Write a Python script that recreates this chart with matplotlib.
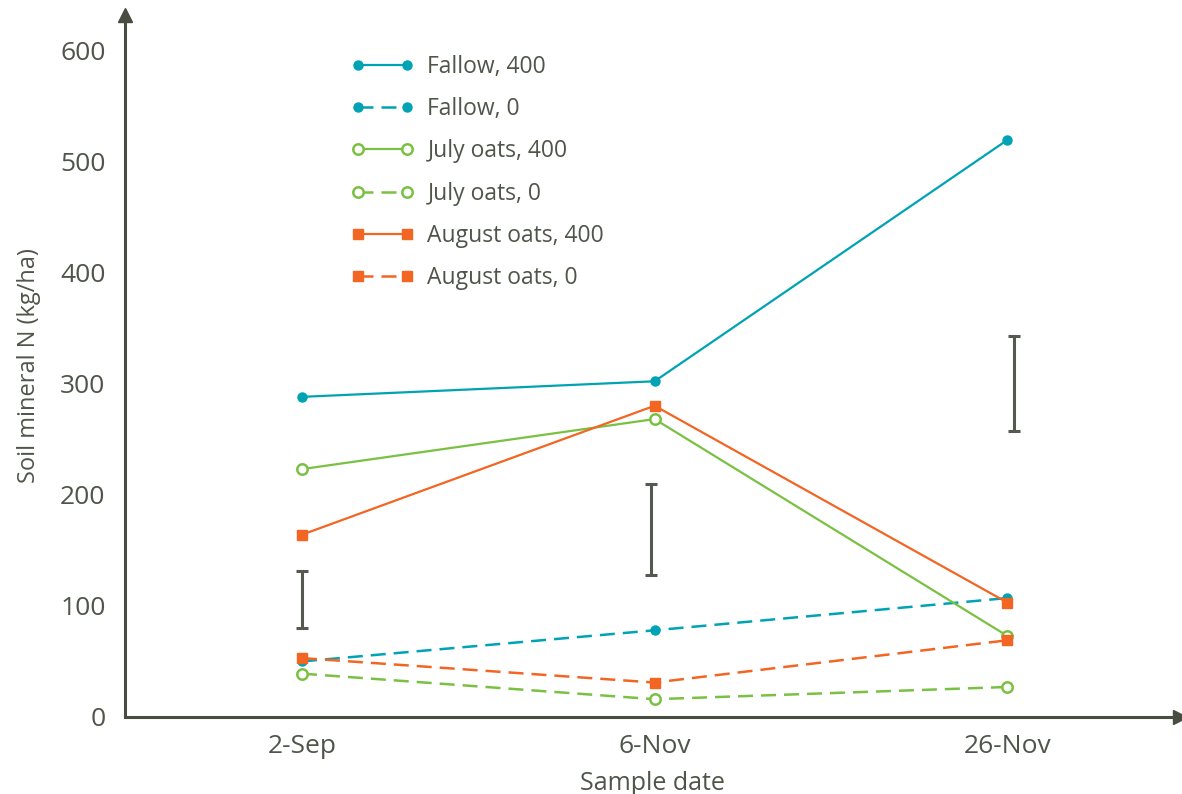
import matplotlib.pyplot as plt

# Sample dates and soil mineral N (kg/ha)
dates = ['2-Sep', '6-Nov', '26-Nov']
fallow_400 = [288, 302, 519]
fallow_0 = [50, 78, 107]
july_400 = [223, 268, 73]
july_0 = [39, 16, 27]
august_400 = [164, 280, 103]
august_0 = [53, 31, 69]

# LSD-style error bars (centre, half width)
err_centre = [106, 168.5, 300]
err_half = [25.5, 41, 43]

TEAL = '#00a3b4'
GREEN = '#7ac143'
ORANGE = '#f26522'
AXIS = '#474d41'
TEXT = '#4f5649'

plt.rcParams['font.family'] = ['Open Sans', 'DejaVu Sans']

fig = plt.figure(figsize=(11.82, 7.94), dpi=100)
ax = fig.add_axes([125 / 1182, 1 - 717 / 794, (1180 - 125) / 1182, (717 - 15) / 794])

x = list(range(len(dates)))
dash = (6, 3.2)

ax.plot(x, fallow_400, color=TEAL, lw=1.6, marker='o', ms=6.5, label='Fallow, 400')
ax.plot(x, fallow_0, color=TEAL, lw=1.8, dashes=dash, marker='o', ms=6.5, label='Fallow, 0')
ax.plot(x, july_400, color=GREEN, lw=1.6, marker='o', ms=7.5, mfc='white', mew=1.8,
        label='July oats, 400')
ax.plot(x, july_0, color=GREEN, lw=1.8, dashes=dash, marker='o', ms=7.5, mfc='white',
        mew=1.8, label='July oats, 0')
ax.plot(x, august_400, color=ORANGE, lw=1.6, marker='s', ms=6.5, label='August oats, 400')
ax.plot(x, august_0, color=ORANGE, lw=1.8, dashes=dash, marker='s', ms=6.5, label='August oats, 0')

err_x = [0, 0.99, 2.02]
ax.errorbar(err_x, err_centre, yerr=err_half, fmt='none', ecolor='#545a4f',
            elinewidth=2.2, capsize=4.5, capthick=2.2)

ax.set_xlim(-0.502, 2.49)
ax.set_ylim(0, 631.5)
ax.set_xticks(x)
ax.set_xticklabels(dates)
ax.set_yticks([0, 100, 200, 300, 400, 500, 600])
ax.tick_params(axis='both', length=0, labelsize=19, colors=TEXT)
ax.tick_params(axis='y', pad=14)
ax.tick_params(axis='x', pad=12)

for side in ['top', 'right']:
    ax.spines[side].set_visible(False)
for side in ['left', 'bottom']:
    ax.spines[side].set_color(AXIS)
    ax.spines[side].set_linewidth(2.2)

# arrow heads at the ends of the axes
ax.plot(1, 0, marker='>', ms=10, color=AXIS, transform=ax.transAxes, clip_on=False)
ax.plot(0, 1, marker='^', ms=10, color=AXIS, transform=ax.transAxes, clip_on=False)

ax.set_xlabel('Sample date', fontsize=18, color=TEXT, labelpad=9)
ax.set_ylabel('Soil mineral N (kg/ha)', fontsize=17, color=TEXT, labelpad=14)

leg = ax.legend(loc='upper left', bbox_to_anchor=(330 / 1182, 1 - 34 / 794),
                bbox_transform=fig.transFigure, frameon=False, fontsize=16.5,
                numpoints=2, handlelength=2.75, handletextpad=0.6, labelspacing=0.8)
for t in leg.get_texts():
    t.set_color(TEXT)

fig.savefig('out.png', dpi=100)
